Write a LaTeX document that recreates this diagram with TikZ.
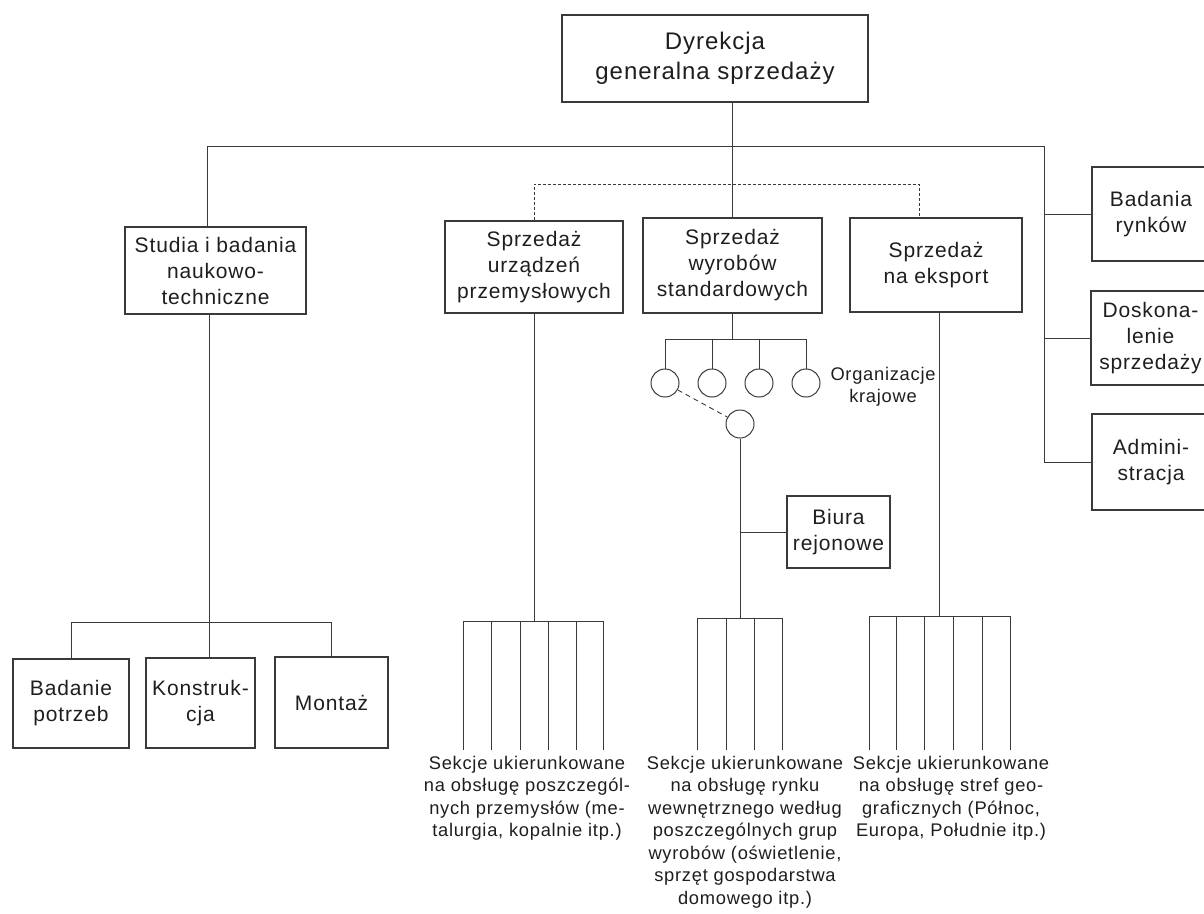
\documentclass[tikz,border=0pt]{standalone}
\usepackage{fontspec}
\setmainfont{Liberation Sans}[LetterSpace=4]
\definecolor{ink}{HTML}{3A3A3A}
\definecolor{txt}{HTML}{1E1E1E}
\newcommand\txtbig{\fontsize{24}{30}\selectfont}
\newcommand\txtbox{\fontsize{21}{26}\selectfont}
\newcommand\txtsmall{\fontsize{18.3}{22.5}\selectfont}
\begin{document}
\begin{tikzpicture}[x=1pt,y=-1pt,
  box/.style={draw=ink, line width=1.1pt, rectangle, inner sep=0pt, align=center, font=\txtbox, text=txt},
  circ/.style={draw=ink, circle, minimum size=28pt, inner sep=0pt, line width=1pt},
  conn/.style={draw=ink, line width=0.9pt},
  dconn/.style={conn, dash pattern=on 3pt off 2pt},
  note/.style={align=center, font=\txtsmall, text=txt, inner sep=0pt}]
\useasboundingbox (0,0) rectangle (1204,913);
\clip (0,0) rectangle (1204,913);

% boxes
\node[box, font=\txtbig, minimum width=306pt, minimum height=87pt] (D) at (715,58.5) {Dyrekcja\\generalna sprzedaży};
\node[box, minimum width=181pt, minimum height=87pt] (S) at (215.5,270.5) {Studia i badania\\naukowo-\\techniczne};
\node[box, minimum width=178pt, minimum height=92pt] (U) at (534,267) {Sprzedaż\\urządzeń\\przemysłowych};
\node[box, minimum width=179pt, minimum height=95pt] (W) at (732.5,265.5) {Sprzedaż\\wyrobów\\standardowych};
\node[box, minimum width=172pt, minimum height=94pt] (E) at (936,265) {Sprzedaż\\na eksport};
\node[box, minimum width=118pt, minimum height=94pt] (BR) at (1151,214) {Badania\\rynków};
\node[box, minimum width=119pt, minimum height=94pt] (DS) at (1150.5,338) {Doskona-\\lenie\\sprzedaży};
\node[box, minimum width=118pt, minimum height=96pt] (AD) at (1151,462) {Admini-\\stracja};
\node[box, minimum width=103pt, minimum height=72pt] (BI) at (838.5,532) {Biura\\rejonowe};
\node[box, minimum width=116pt, minimum height=89pt] (BP) at (71,703.5) {Badanie\\potrzeb};
\node[box, minimum width=109pt, minimum height=90pt] (KO) at (200.5,703) {Konstruk-\\cja};
\node[box, minimum width=113pt, minimum height=91pt] (MO) at (331.5,702.5) {Montaż};

% regional organisations
\foreach \n/\x in {c1/665, c2/712, c3/759, c4/806}
  \node[circ] (\n) at (\x,383) {};
\node[circ] (c5) at (740,424) {};
\node[note] (org) at (883,387) {Organizacje\\krajowe};

% junction points
\coordinate (rtop) at (1044,146);
\coordinate (dr) at (919,184);
\coordinate (cb) at (733,339);
\coordinate (sl) at (209,622);
\coordinate (lg) at (534,621);
\coordinate (mg) at (740,618);
\coordinate (rg) at (939,616);

% main level
\draw[conn] (W.north |- D.south) -- (W.north);
\draw[conn] ([xshift=-8pt]S.north) |- (rtop) |- (AD.west);
\draw[conn] (rtop |- BR.west) -- (BR.west);
\draw[conn] (rtop |- DS.west) -- (DS.west);
\draw[dconn] (U.north) |- (dr) -- (dr |- E.north);

% research branch
\draw[conn] (sl |- S.south) -- (sl);
\draw[conn] (BP.north) |- (MO.north |- sl) -- (MO.north);
\draw[conn] (sl) -- (sl |- KO.north);

% standard products branch
\draw[conn] (W.south) -- (W.south |- cb);
\draw[conn] (c1.north) |- (c4.north |- cb) -- (c4.north);
\draw[conn] (c2.north) -- (c2.north |- cb);
\draw[conn] (c3.north) -- (c3.north |- cb);
\draw[conn, dash pattern=on 5pt off 4pt] (c1) -- (c5);
\draw[conn] (c5.south) -- (mg);
\draw[conn] (c5.south |- BI.west) -- (BI.west);

% other sales branches
\draw[conn] (U.south) -- (lg);
\draw[conn] (rg |- E.south) -- (rg);

% section columns
\draw[conn] (463,750) -- (463,621) -- (603,621) -- (603,750);
\foreach \x in {491,520,548,576} \draw[conn] (\x,621) -- (\x,750);
\draw[conn] (697,750) -- (697,618) -- (782,618) -- (782,750);
\foreach \x in {726,754} \draw[conn] (\x,618) -- (\x,750);
\draw[conn] (869,750) -- (869,616) -- (1010,616) -- (1010,750);
\foreach \x in {896,924,953,982} \draw[conn] (\x,616) -- (\x,750);

% section descriptions
\node[note, anchor=north] (nL) at (527,756) {Sekcje ukierunkowane\\na obsługę poszczegól-\\nych przemysłów (me-\\talurgia, kopalnie itp.)};
\node[note, anchor=north] (nM) at (745,756) {Sekcje ukierunkowane\\na obsługę rynku\\wewnętrznego według\\poszczególnych grup\\wyrobów (oświetlenie,\\sprzęt gospodarstwa\\domowego itp.)};
\node[note, anchor=north] (nR) at (951,756) {Sekcje ukierunkowane\\na obsługę stref geo-\\graficznych (Północ,\\Europa, Południe itp.)};
\end{tikzpicture}
\end{document}
